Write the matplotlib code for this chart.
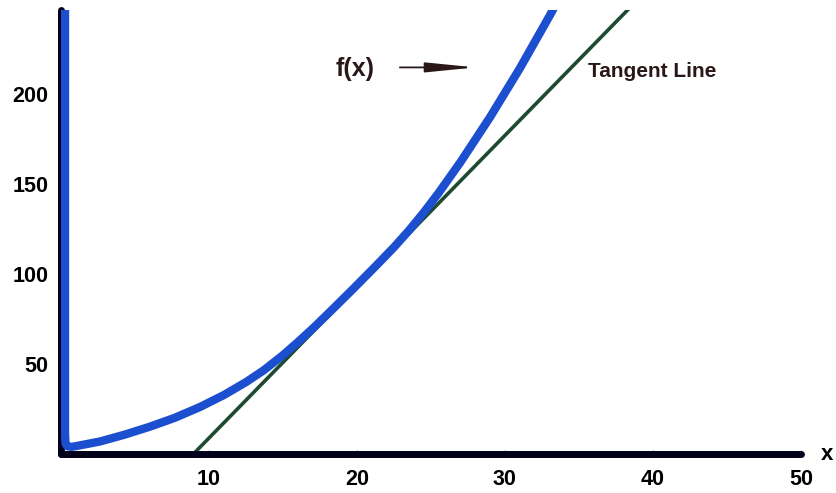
import matplotlib.pyplot as plt

# f(x) sampled along the curve
fx_x = [0.27, 0.27, 0.3, 0.4, 0.7, 1.0, 2.64, 4.3, 6.0, 7.7, 9.4, 11.0, 12.5,
        13.7, 15.0, 16.0, 17.1, 18.2, 19.7, 21.3, 22.5, 23.5, 24.5, 25.5,
        27.0, 29.0, 31.0, 33.0, 33.3]
fx_y = [248, 12, 6.0, 4.4, 4.0, 4.4, 7.0, 10.8, 15.2, 20.2, 26.2, 32.8, 40.0,
        46.6, 55.0, 62.2, 70.5, 79.3, 91.5, 104.8, 115.0, 124.2, 134.2, 145.0,
        162.4, 187.4, 214.4, 243.4, 248]

# tangent line end points
tan_x = [8.94, 38.3]
tan_y = [0.0, 247.0]

xticks = [10, 20, 30, 40, 50]
yticks = [50, 100, 150, 200]

plt.rcParams['font.family'] = ['Liberation Sans', 'DejaVu Sans']
plt.rcParams['font.weight'] = 'bold'

fig = plt.figure(figsize=(8.36, 4.93), dpi=100)
ax = fig.add_axes([0.073, 0.079, 0.885, 0.901])

ax.plot(fx_x, fx_y, color='#1c4fd0', lw=6, solid_joinstyle='round', zorder=4)
ax.plot(tan_x, tan_y, color='#1d4a30', lw=2.6, zorder=2)

ax.set_xlim(0, 50)
ax.set_ylim(0, 247)

for side in ['top', 'right']:
    ax.spines[side].set_visible(False)
for side in ['left', 'bottom']:
    ax.spines[side].set_linewidth(5)
    ax.spines[side].set_color('#00001a')
    ax.spines[side].set_capstyle('round')
    ax.spines[side].set_zorder(3)

ax.set_xticks(xticks)
ax.set_yticks(yticks)
ax.tick_params(axis='both', direction='in', length=3, width=0.6,
               color='#555555', labelsize=15.5, pad=9)
ax.tick_params(axis='x', pad=11)
for lab in ax.get_xticklabels() + ax.get_yticklabels():
    lab.set_fontweight('bold')

ax.text(51.8, -0.5, 'x', fontsize=16, fontweight='bold', ha='center', va='center',
        clip_on=False)

ax.text(19.9, 214, 'f(x)', fontsize=18, fontweight='bold', color='#2a1818',
        ha='center', va='center')
ax.annotate('', xy=(28.0, 215), xytext=(22.9, 215),
            arrowprops=dict(arrowstyle='-|>,head_length=3.0,head_width=0.3',
                            color='#2a1818', lw=1.3, shrinkA=0, shrinkB=0))
ax.text(35.6, 213, 'Tangent Line', fontsize=15, fontweight='bold',
        color='#2a1818', ha='left', va='center')

fig.savefig('out.png', dpi=100)
